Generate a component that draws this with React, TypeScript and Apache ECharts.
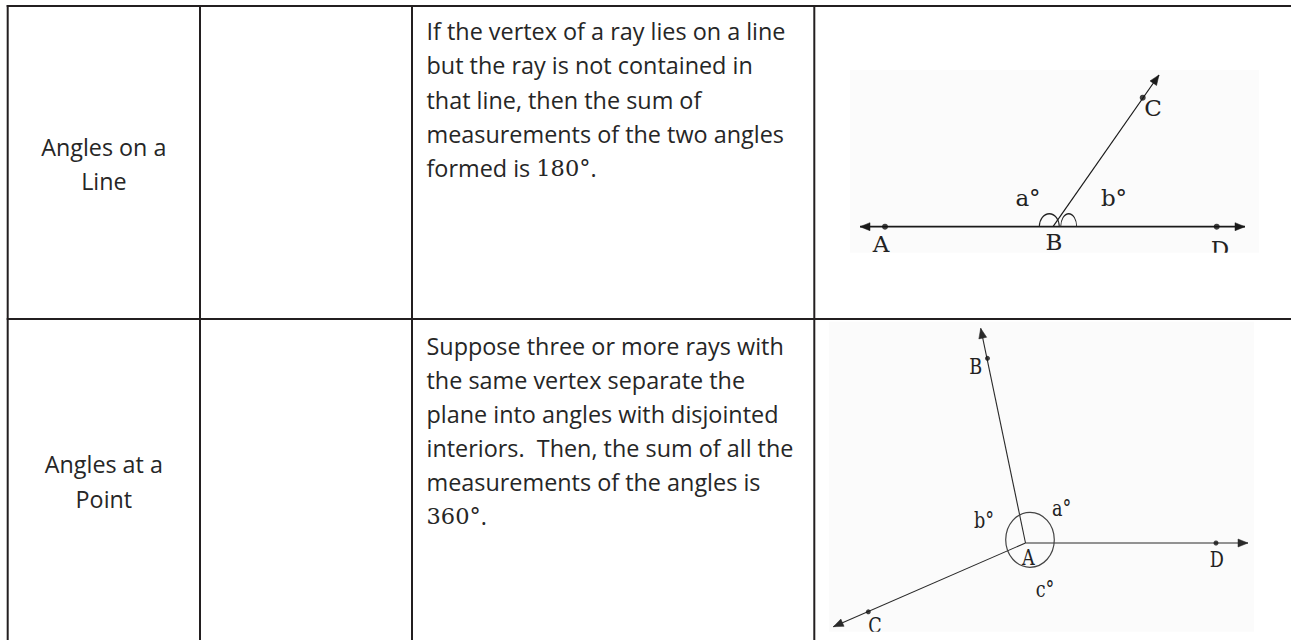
import React, { useEffect, useRef } from "react";
import * as echarts from "echarts";

// ---------- table content ----------
const rowTitles: string[][] = [
  ["Angles on a", "Line"],
  ["Angles at a", "Point"],
];
const rowStatements: string[][] = [
  [
    "If the vertex of a ray lies on a line",
    "but the ray is not contained in",
    "that line, then the sum of",
    "measurements of the two angles",
    "formed is {m|180°}.",
  ],
  [
    "Suppose three or more rays with",
    "the same vertex separate the",
    "plane into angles with disjointed",
    "interiors.\u00a0 Then, the sum of all the",
    "measurements of the angles is",
    "{m|360°}.",
  ],
];

// ---------- diagram 1 : angles on a line (local units, y downwards) ----------
const lineRays: number[][] = [
  // x1, y1, x2, y2, arrowAtStart, arrowAtEnd
  [40, 166.7, 425, 166.7, 1, 1],
  [233, 166.7, 339, 15, 0, 1],
];
const lineRayWidths = [1.7, 1.2];
const linePoints: number[][] = [
  [65, 166.7],
  [396.7, 166.7],
  [322.7, 37.7],
];
const lineLabels = ["A", "B", "D", "C", "a°", "b°"];
const lineLabelPos: number[][] = [
  [61, 183.5],
  [234, 182],
  [400, 188.5],
  [333, 48],
  [208, 137.5],
  [294, 137.5],
];
const lineArcs: number[][] = [
  // cx, cy, rx, ry
  [229.3, 166.7, 10, 13],
  [248.7, 166.7, 8, 13],
];

// ---------- diagram 2 : angles at a point ----------
const pointRays: number[][] = [
  [205.5, 223, 428, 223, 0, 1],
  [205.5, 223, 160.7, 8.3, 0, 1],
  [205.5, 223, 13.3, 306.7, 0, 1],
];
const pointRayWidths = [1.2, 1.1, 1.1];
const pointPoints: number[][] = [
  [396, 223],
  [167.5, 38.3],
  [48.3, 291.8],
];
const pointLabels = ["D", "B", "C", "A", "a°", "b°", "c°"];
const pointLabelPos: number[][] = [
  [396.7, 239.5],
  [155.8, 46.5],
  [55, 306],
  [208.3, 237.5],
  [241.7, 189],
  [164, 200.7],
  [225, 270],
];
const pointEllipses: number[][] = [[210, 219.8, 24.3, 27.5]];

// ---------- layout ----------
const COLS = [7.7, 200, 412, 814.3];
const TOP = 6;
const ROW_SEP = 319;
const W = 1291;
const H = 640;
const LINE_COLOR = "#231f20";
const TEXT_COLOR = "#262626";
const MAIN_FONT = "'Open Sans', 'Noto Sans', sans-serif";
const SERIF = "'DejaVu Serif', 'Liberation Serif', serif";

function arrowHead(from: number[], tip: number[], color: string) {
  const dx = tip[0] - from[0];
  const dy = tip[1] - from[1];
  const len = Math.sqrt(dx * dx + dy * dy) || 1;
  const ux = dx / len;
  const uy = dy / len;
  const L = 10;
  const Wd = 4;
  const bx = tip[0] - ux * L;
  const by = tip[1] - uy * L;
  return {
    type: "polygon",
    shape: {
      points: [
        [tip[0], tip[1]],
        [bx - uy * Wd, by + ux * Wd],
        [bx + uy * Wd, by - ux * Wd],
      ],
    },
    style: { fill: color, stroke: color, lineWidth: 0.5 },
  };
}

function raySeries(gi: number, rays: number[][], widths: number[], color: string) {
  return {
    type: "custom",
    xAxisIndex: gi,
    yAxisIndex: gi,
    z: 3,
    data: rays,
    renderItem: (params: any, api: any) => {
      const p1 = api.coord([api.value(0), api.value(1)]);
      const p2 = api.coord([api.value(2), api.value(3)]);
      const children: any[] = [
        {
          type: "line",
          shape: { x1: p1[0], y1: p1[1], x2: p2[0], y2: p2[1] },
          style: { stroke: color, lineWidth: widths[params.dataIndex] },
        },
      ];
      if (api.value(4)) children.push(arrowHead(p2, p1, color));
      if (api.value(5)) children.push(arrowHead(p1, p2, color));
      return { type: "group", children };
    },
  };
}

function pointSeries(gi: number, pts: number[][], size: number) {
  return {
    type: "scatter",
    xAxisIndex: gi,
    yAxisIndex: gi,
    z: 4,
    symbol: "circle",
    symbolSize: size,
    itemStyle: { color: "#111" },
    data: pts,
  };
}

function labelSeries(gi: number, labels: string[], pos: number[][], fontSize: number, sx: number) {
  return {
    type: "custom",
    xAxisIndex: gi,
    yAxisIndex: gi,
    z: 5,
    clip: true,
    data: pos,
    renderItem: (params: any, api: any) => {
      const p = api.coord([api.value(0), api.value(1)]);
      return {
        type: "text",
        x: p[0],
        y: p[1],
        scaleX: sx,
        style: {
          text: labels[params.dataIndex],
          fill: "#222",
          fontFamily: SERIF,
          fontSize: fontSize,
          textAlign: "center",
          textVerticalAlign: "middle",
          align: "center",
          verticalAlign: "middle",
        },
      };
    },
  };
}

function arcSeries(gi: number, arcs: number[][], full: boolean) {
  return {
    type: "custom",
    xAxisIndex: gi,
    yAxisIndex: gi,
    z: 3,
    data: arcs,
    renderItem: (params: any, api: any) => {
      const c = api.coord([api.value(0), api.value(1)]);
      const sz = api.size([api.value(2), api.value(3)]);
      if (full) {
        return {
          type: "ellipse",
          shape: { cx: c[0], cy: c[1], rx: sz[0], ry: sz[1] },
          style: { fill: "none", stroke: "#444", lineWidth: 1.2 },
        };
      }
      return {
        type: "arc",
        x: c[0],
        y: c[1],
        scaleY: sz[1] / sz[0],
        shape: { cx: 0, cy: 0, r: sz[0], startAngle: Math.PI, endAngle: 2 * Math.PI, clockwise: true },
        style: { fill: "none", stroke: "#222", lineWidth: 1.4 / Math.max(1, sz[1] / sz[0]) },
      };
    },
  };
}

function buildGraphics() {
  const els: any[] = [];
  // image backgrounds
  els.push({ type: "rect", z: 0, shape: { x: 850, y: 70, width: 409, height: 182.7 }, style: { fill: "#fbfbfb" } });
  els.push({ type: "rect", z: 0, shape: { x: 829, y: 321.7, width: 425, height: 310 }, style: { fill: "#fbfbfb" } });
  // table lines
  const hl = (y: number) => ({
    type: "line",
    z: 10,
    shape: { x1: COLS[0] - 1, y1: y, x2: W, y2: y },
    style: { stroke: LINE_COLOR, lineWidth: 2 },
  });
  els.push(hl(TOP));
  els.push(hl(ROW_SEP));
  COLS.forEach((x) =>
    els.push({
      type: "line",
      z: 10,
      shape: { x1: x, y1: TOP - 1, x2: x, y2: H },
      style: { stroke: LINE_COLOR, lineWidth: 2 },
    })
  );
  // titles
  const titleMid = [
    [147, 181.3],
    [464, 499],
  ];
  rowTitles.forEach((lines, r) =>
    lines.forEach((t, i) =>
      els.push({
        type: "text",
        z: 10,
        x: (COLS[0] + COLS[1]) / 2,
        y: titleMid[r][i],
        style: {
          text: t,
          fill: TEXT_COLOR,
          fontFamily: MAIN_FONT,
          fontSize: 23.3,
          textAlign: "center",
          textVerticalAlign: "middle",
          align: "center",
          verticalAlign: "middle",
        },
      })
    )
  );
  // statements
  const firstMid = [30.7, 345.5];
  const step = [34.4, 34.1];
  rowStatements.forEach((lines, r) =>
    lines.forEach((t, i) =>
      els.push({
        type: "text",
        z: 10,
        x: 426.5,
        y: firstMid[r] + step[r] * i,
        style: {
          text: t,
          fill: TEXT_COLOR,
          fontFamily: MAIN_FONT,
          fontSize: 23.4,
          textAlign: "left",
          textVerticalAlign: "middle",
          align: "left",
          verticalAlign: "middle",
          rich: {
            m: { fontFamily: SERIF, fontSize: 22.5, fill: TEXT_COLOR },
          },
        },
      })
    )
  );
  return els;
}

export default function App() {
  const ref = useRef<HTMLDivElement>(null);
  useEffect(() => {
    if (!ref.current) return;
    const chart = echarts.init(ref.current, null, { renderer: "svg" });
    chart.setOption({
      animation: false,
      backgroundColor: "#ffffff",
      grid: [
        { left: 820, top: 60, width: 450, height: 192.7 },
        { left: 820, top: 320, width: 450, height: 311.7 },
      ],
      xAxis: [
        { gridIndex: 0, type: "value", min: 0, max: 450, show: false },
        { gridIndex: 1, type: "value", min: 0, max: 450, show: false },
      ],
      yAxis: [
        { gridIndex: 0, type: "value", min: 0, max: 192.7, inverse: true, show: false },
        { gridIndex: 1, type: "value", min: 0, max: 311.7, inverse: true, show: false },
      ],
      graphic: buildGraphics(),
      series: [
        raySeries(0, lineRays, lineRayWidths, "#1a1a1a"),
        arcSeries(0, lineArcs, false),
        pointSeries(0, linePoints, 6),
        labelSeries(0, lineLabels, lineLabelPos, 23, 1),
        raySeries(1, pointRays, pointRayWidths, "#2a2a2a"),
        arcSeries(1, pointEllipses, true),
        pointSeries(1, pointPoints, 5),
        labelSeries(1, pointLabels, pointLabelPos, 22, 0.8),
      ],
    });
    return () => chart.dispose();
  }, []);
  return (
    <div
      ref={ref}
      style={{ position: "fixed", left: 0, top: 0, width: W, height: H, background: "#fff" }}
    />
  );
}
